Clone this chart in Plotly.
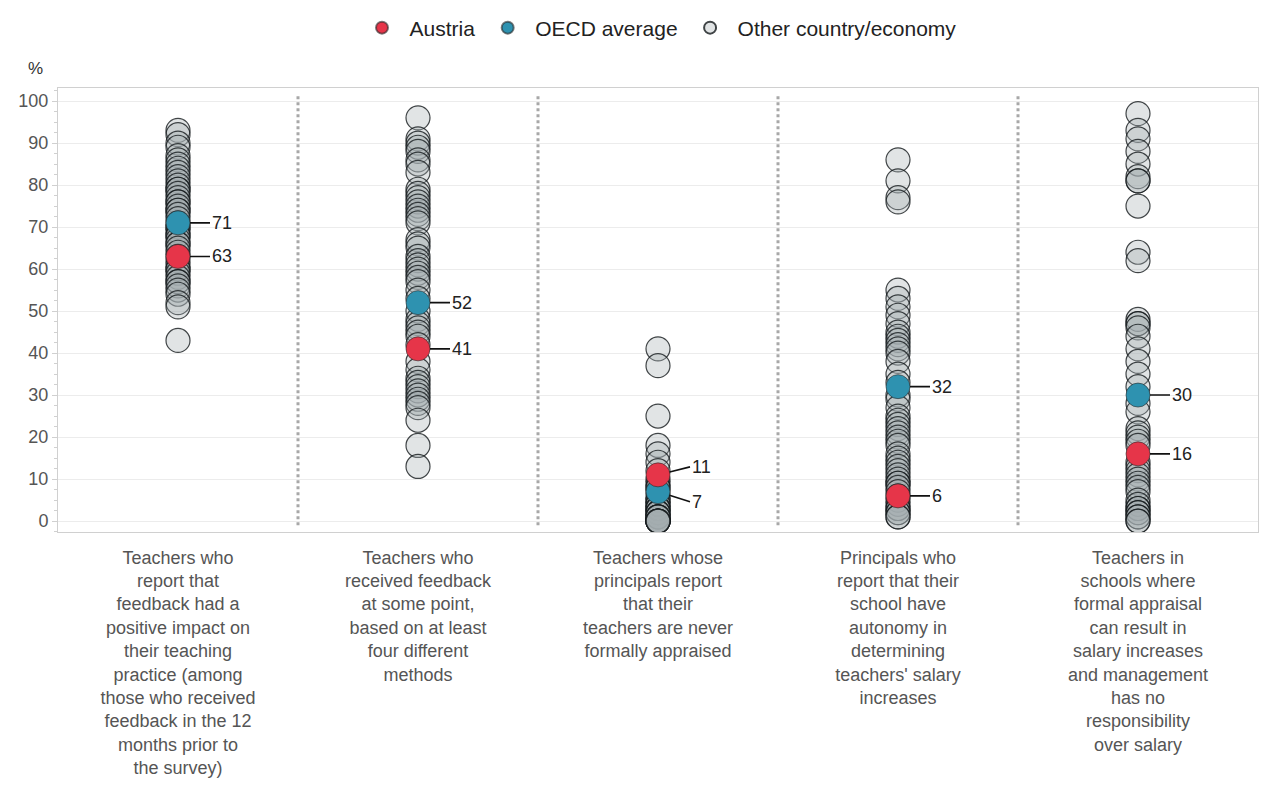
import plotly.graph_objects as go

categories = [
    "Teachers who<br>report that<br>feedback had a<br>positive impact on<br>their teaching<br>practice (among<br>those who received<br>feedback in the 12<br>months prior to<br>the survey)",
    "Teachers who<br>received feedback<br>at some point,<br>based on at least<br>four different<br>methods",
    "Teachers whose<br>principals report<br>that their<br>teachers are never<br>formally appraised",
    "Principals who<br>report that their<br>school have<br>autonomy in<br>determining<br>teachers' salary<br>increases",
    "Teachers in<br>schools where<br>formal appraisal<br>can result in<br>salary increases<br>and management<br>has no<br>responsibility<br>over salary",
]

other_values = [
    [93, 92, 90, 89, 87, 86, 85, 84, 83, 82, 81, 80, 79, 79, 78, 77, 76, 76, 75, 74,
     74, 73, 72, 71, 70, 70, 69, 68, 68, 67, 66, 66, 65, 64, 63, 62, 61, 60, 60, 59,
     58, 57, 57, 56, 55, 54, 52, 51, 43],
    [96, 91, 90, 89, 88, 86, 85, 83, 79, 78, 77, 76, 75, 74, 73, 72, 71, 67, 66, 65,
     63, 62, 61, 60, 59, 58, 57, 55, 53, 50, 48, 47, 46, 45, 44, 42, 38, 36, 34, 33,
     32, 31, 30, 29, 28, 27, 24, 18, 13],
    [41, 37, 25, 18, 16, 14, 12, 10, 9, 8, 8, 7, 6, 5, 5, 4, 4, 3, 3, 3, 2, 2, 2, 1,
     1, 1, 1, 0, 0, 0, 0, 0, 0, 0],
    [86, 81, 77, 76, 55, 53, 51, 49, 47, 45, 44, 43, 42, 41, 40, 38, 35, 33, 30, 29,
     27, 25, 24, 23, 22, 21, 20, 19, 18, 16, 15, 14, 13, 12, 11, 10, 9, 9, 8, 7, 6,
     5, 4, 3, 3, 2, 2, 1, 1],
    [97, 93, 91, 88, 85, 82, 81, 81, 75, 64, 62, 48, 47, 47, 46, 44, 41, 38, 35, 32,
     28, 26, 22, 21, 20, 19, 18, 14, 13, 12, 11, 10, 9, 8, 7, 5, 4, 3, 3, 2, 2, 1,
     1, 0, 0],
]
austria_values = [63, 41, 11, 6, 16]
oecd_values = [71, 52, 7, 32, 30]
austria_labels = ["63", "41", "11", "6", "16"]
oecd_labels = ["71", "52", "7", "32", "30"]
yticks = [0, 10, 20, 30, 40, 50, 60, 70, 80, 90, 100]

RED = "#E63549"
BLUE = "#2E92B0"
FONT = "Liberation Sans, Arial, sans-serif"

W, H = 1261, 787
ML, MR, MT, MB = 58, 3, 88, 255
PW, PH = W - ML - MR, H - MT - MB

fig = go.Figure()

ox, oy = [], []
for i, vals in enumerate(other_values):
    for v in vals:
        ox.append(i)
        oy.append(v)

fig.add_trace(go.Scatter(
    x=ox, y=oy, mode="markers", name="Other country/economy",
    marker=dict(size=24, color="rgba(165,172,176,0.33)",
                line=dict(color="rgba(20,25,28,0.8)", width=1.2)),
    legendrank=3,
))
fig.add_trace(go.Scatter(
    x=list(range(5)), y=oecd_values, mode="markers", name="OECD average",
    marker=dict(size=24, color=BLUE, line=dict(color="rgba(40,40,40,0.6)", width=1)),
    legendrank=2,
))
fig.add_trace(go.Scatter(
    x=list(range(5)), y=austria_values, mode="markers", name="Austria",
    marker=dict(size=24, color=RED, line=dict(color="rgba(40,40,40,0.6)", width=1)),
    legendrank=1,
))

annotations = []
for i in range(5):
    a, o = austria_values[i], oecd_values[i]
    close = abs(a - o) < 8
    if close:
        ay_a = -8 if a > o else 10
        ay_o = 10 if a > o else -8
    else:
        ay_a = ay_o = 0
    for v, lab, ay in ((a, austria_labels[i], ay_a), (o, oecd_labels[i], ay_o)):
        annotations.append(dict(
            x=i, y=v, xref="x", yref="y", text=lab, showarrow=True,
            arrowhead=0, arrowwidth=1.6, arrowcolor="#111", standoff=12,
            ax=32, ay=ay, xanchor="left", yanchor="middle",
            font=dict(size=18, color="#222", family=FONT),
        ))
annotations.append(dict(x=(35 - ML) / PW, y=1 + (MT - 68) / PH, xref="paper", yref="paper",
                        text="%", showarrow=False, xanchor="center", yanchor="middle",
                        font=dict(size=17, color="#333", family=FONT)))

shapes = []
for b in [0.5, 1.5, 2.5, 3.5]:
    shapes.append(dict(type="line", x0=b, x1=b, y0=0.015, y1=0.985, xref="x", yref="paper",
                       line=dict(color="#a8a8a8", width=3, dash="dot"), layer="below"))

fig.update_layout(
    width=W, height=H,
    margin=dict(l=ML, r=MR, t=MT, b=MB, autoexpand=False),
    paper_bgcolor="white", plot_bgcolor="white",
    font=dict(family=FONT, size=16, color="#555"),
    showlegend=True,
    legend=dict(orientation="h", x=0.5, xanchor="center",
                y=1 + (MT - 28) / PH, yanchor="middle",
                font=dict(size=21, color="#222", family=FONT),
                traceorder="normal", itemsizing="constant", itemwidth=45),
    annotations=annotations,
    shapes=shapes,
)
fig.update_xaxes(
    tickmode="array", tickvals=list(range(5)), ticktext=categories,
    range=[-0.5, 4.5], showgrid=False, zeroline=False, automargin=False,
    showline=True, linecolor="#d0d0d0", mirror=True,
    tickfont=dict(size=18, color="#555", family=FONT), ticks="", ticklabelstandoff=9,
)
fig.update_yaxes(
    range=[-2.6, 103.1], tickvals=yticks, showgrid=True, gridcolor="#ececec",
    zeroline=False, showline=True, linecolor="#d0d0d0", mirror=True, automargin=False,
    ticks="outside", ticklen=5, tickcolor="#d0d0d0",
    tickfont=dict(size=18, color="#555", family=FONT),
    minor=dict(ticks="outside", ticklen=3, tickcolor="#d0d0d0", dtick=2.5),
)

fig.write_html("out.html", config={"displayModeBar": False},
               post_script="document.body.style.margin='0';document.body.style.overflow='hidden';")
